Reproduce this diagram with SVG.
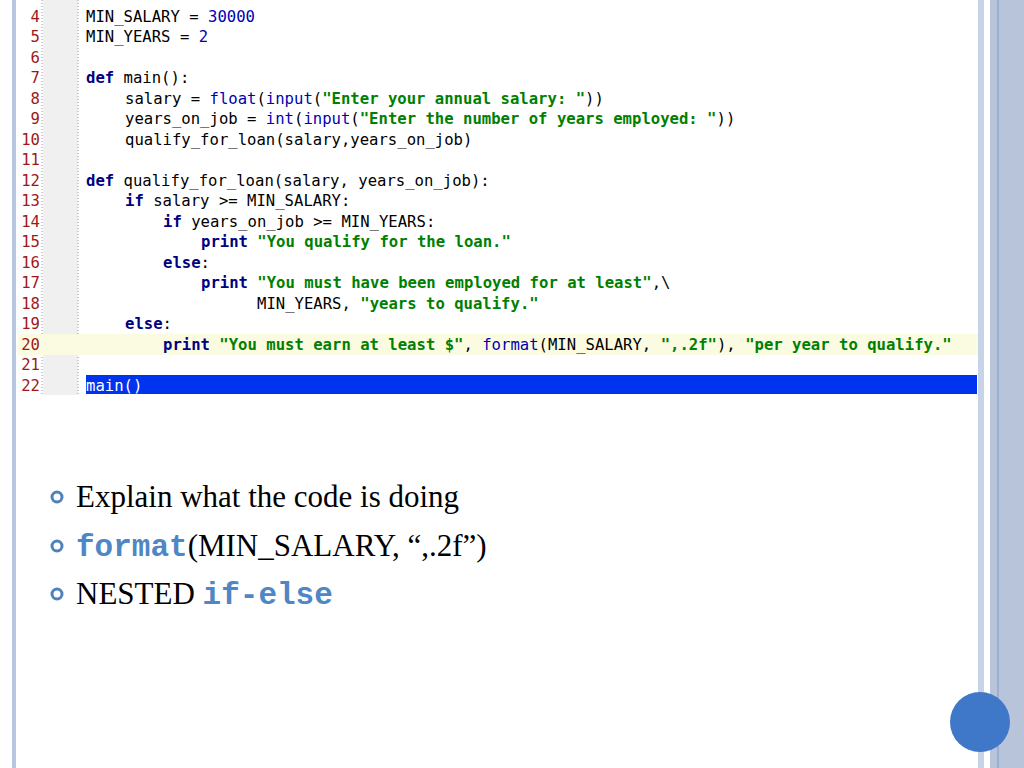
<svg xmlns="http://www.w3.org/2000/svg" width="1024" height="768" viewBox="0 0 1024 768">
<style>
.c{font-family:"DejaVu Sans Mono","Liberation Mono",monospace;font-size:15.6px;fill:#000;white-space:pre}
.n{font-family:"DejaVu Sans Mono","Liberation Mono",monospace;font-size:15.6px;fill:#a01818;text-anchor:end}
.k{fill:#000080;font-weight:bold}
.b{fill:#0000b0}
.s{fill:#008000;font-weight:bold}
.t{font-family:"Liberation Serif",serif;font-size:31px;fill:#000}
.m{font-family:"Liberation Mono",monospace;font-weight:bold;fill:#4f86c6}
</style>
<rect width="1024" height="768" fill="#fff"/>
<g id="frame">
<rect x="12" y="0" width="4" height="768" fill="#b8c6de"/>
<rect x="978" y="0" width="6" height="768" fill="#c7d3e6"/>
<rect x="990" y="0" width="34" height="768" fill="#b8c4da"/>
<line x1="998" y1="0" x2="998" y2="768" stroke="#7f9cc8" stroke-width="1"/>
</g>
<g id="editor">
<rect x="43" y="0" width="35" height="395" fill="#f0f0f0"/>
<line x1="42" y1="0" x2="42" y2="395" stroke="#999" stroke-dasharray="1,2"/>
<line x1="78" y1="0" x2="78" y2="395" stroke="#999" stroke-dasharray="1,2"/>
<rect x="18" y="334" width="960" height="21" fill="#fbfbe2"/>
<rect x="86" y="375" width="891" height="19" fill="#0033ee"/>
<g class="n">
<text x="40" y="22">4</text><text x="40" y="42">5</text><text x="40" y="63">6</text><text x="40" y="83">7</text><text x="40" y="104">8</text><text x="40" y="124">9</text><text x="40" y="145">10</text><text x="40" y="165">11</text><text x="40" y="186">12</text><text x="40" y="206">13</text><text x="40" y="227">14</text><text x="40" y="247">15</text><text x="40" y="268">16</text><text x="40" y="288">17</text><text x="40" y="309">18</text><text x="40" y="329">19</text><text x="40" y="350">20</text><text x="40" y="370">21</text><text x="40" y="391">22</text>
</g>
<g class="c">
<text x="86" y="22">MIN_SALARY = <tspan class="b">30000</tspan></text>
<text x="86" y="42">MIN_YEARS = <tspan class="b">2</tspan></text>
<text x="86" y="83"><tspan class="k">def</tspan> main():</text>
<text x="125" y="104">salary = <tspan class="b">float</tspan>(<tspan class="b">input</tspan>(<tspan class="s">"Enter your annual salary: "</tspan>))</text>
<text x="125" y="124">years_on_job = <tspan class="b">int</tspan>(<tspan class="b">input</tspan>(<tspan class="s">"Enter the number of years employed: "</tspan>))</text>
<text x="125" y="145">qualify_for_loan(salary,years_on_job)</text>
<text x="86" y="186"><tspan class="k">def</tspan> qualify_for_loan(salary, years_on_job):</text>
<text x="125" y="206"><tspan class="k">if</tspan> salary &gt;= MIN_SALARY:</text>
<text x="163" y="227"><tspan class="k">if</tspan> years_on_job &gt;= MIN_YEARS:</text>
<text x="201" y="247"><tspan class="k">print</tspan> <tspan class="s">"You qualify for the loan."</tspan></text>
<text x="163" y="268"><tspan class="k">else</tspan>:</text>
<text x="201" y="288"><tspan class="k">print</tspan> <tspan class="s">"You must have been employed for at least"</tspan>,\</text>
<text x="257" y="309">MIN_YEARS, <tspan class="s">"years to qualify."</tspan></text>
<text x="125" y="329"><tspan class="k">else</tspan>:</text>
<text x="163" y="350"><tspan class="k">print</tspan> <tspan class="s">"You must earn at least $"</tspan>, <tspan class="b">format</tspan>(MIN_SALARY, <tspan class="s">",.2f"</tspan>), <tspan class="s">"per year to qualify."</tspan></text>
<text x="86" y="391" fill="#fff">main()</text>
</g>
</g>
<g id="bullets">
<circle cx="57" cy="497" r="5" fill="none" stroke="#4f81bd" stroke-width="3"/>
<circle cx="57" cy="546" r="5" fill="none" stroke="#4f81bd" stroke-width="3"/>
<circle cx="57" cy="594" r="5" fill="none" stroke="#4f81bd" stroke-width="3"/>
<text class="t" x="76" y="507">Explain what the code is doing</text>
<text class="t" x="76" y="556"><tspan class="m">format</tspan>(MIN_SALARY, “,.2f”)</text>
<text class="t" x="76" y="604">NESTED <tspan class="m">if-else</tspan></text>
</g>
<circle id="dot" cx="980" cy="722" r="30" fill="#3f78c8"/>
</svg>
